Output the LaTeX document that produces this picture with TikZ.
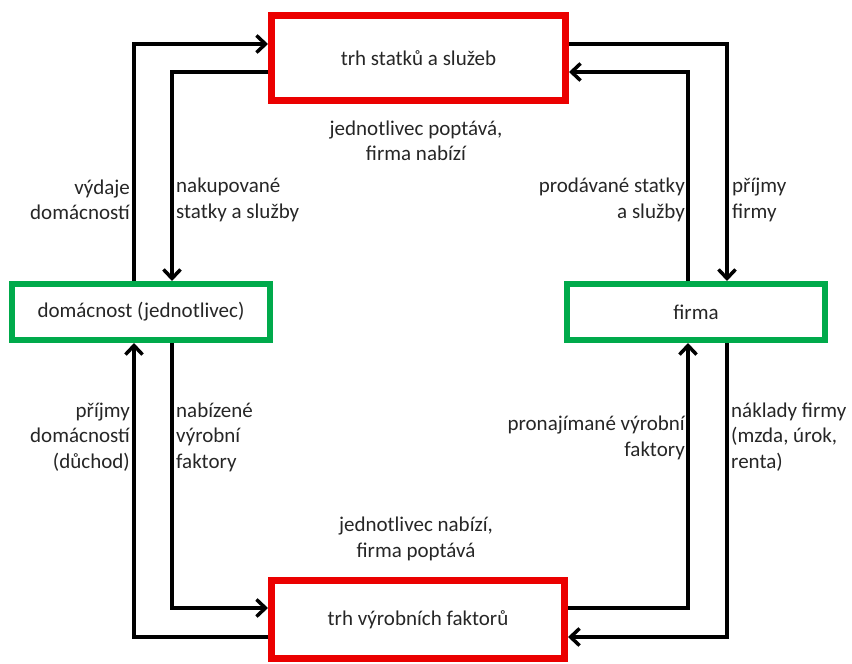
\documentclass[tikz,border=0pt]{standalone}
\usepackage{fontspec}
\setmainfont{Carlito}
\usetikzlibrary{arrows.meta}
\definecolor{boxred}{RGB}{235,0,0}
\definecolor{boxgreen}{RGB}{0,170,75}
\definecolor{txt}{RGB}{38,38,38}
\begin{document}
\begin{tikzpicture}[x=1pt,y=-1pt,
  every node/.style={font=\fontsize{21}{25.5}\selectfont, text=txt, inner sep=0pt},
  market/.style={draw=boxred, line width=7pt, minimum width=294pt, minimum height=85pt},
  agent/.style={draw=boxgreen, line width=6pt, minimum width=258pt, minimum height=56pt},
  lbl/.style={align=left, anchor=west},
  rlbl/.style={align=right, anchor=east},
  clbl/.style={align=center},
  arr/.style={line width=3.5pt, -{Straight Barb[length=9pt,width=17pt]}}]
\useasboundingbox (0,0) rectangle (852,664);
% boxes
\node[market] (gm) at (418.5,58) {trh statků a služeb};
\node[market, minimum width=293pt, minimum height=78pt] (fm) at (418,619.5) {trh výrobních faktorů};
\node[agent] (hh) at (141,312) {domácnost (jednotlivec)};
\node[agent] (firm) at (696,312) {firma};
% guide coordinates
\coordinate (xL1) at (134,0);
\coordinate (xL2) at (172,0);
\coordinate (xR1) at (688,0);
\coordinate (xR2) at (727,0);
\coordinate (yT1) at (0,44);
\coordinate (yT2) at (0,72);
\coordinate (yB1) at (0,608);
\coordinate (yB2) at (0,637);
% connectors
\draw[arr] (hh.north -| xL1) |- (gm.west |- yT1);
\draw[arr] (gm.west |- yT2) -| (hh.north -| xL2);
\draw[arr] (gm.east |- yT1) -| (firm.north -| xR2);
\draw[arr] (firm.north -| xR1) |- (gm.east |- yT2);
\draw[arr] (hh.south -| xL2) |- (fm.west |- yB1);
\draw[arr] (fm.west |- yB2) -| (hh.south -| xL1);
\draw[arr] (fm.east |- yB1) -| (firm.south -| xR1);
\draw[arr] (firm.south -| xR2) |- (fm.east |- yB2);
% labels
\node[clbl] (t1) at (416,141) {jednotlivec poptává,\\firma nabízí};
\node[rlbl] (t2) at (130,200) {výdaje\\domácností};
\node[lbl] (t3) at (176,200) {nakupované\\statky a služby};
\node[rlbl] (t4) at (685,200) {prodávané statky\\a služby};
\node[lbl] (t5) at (732,200) {příjmy\\firmy};
\node[rlbl] (t6) at (130,437) {příjmy\\domácností\\(důchod)};
\node[lbl] (t7) at (176,437) {nabízené\\výrobní\\faktory};
\node[rlbl] (t8) at (685,438) {pronajímané výrobní\\faktory};
\node[lbl] (t9) at (731,437) {náklady firmy\\(mzda, úrok,\\renta)};
\node[clbl] (t10) at (416,539) {jednotlivec nabízí,\\firma poptává};
\end{tikzpicture}
\end{document}
